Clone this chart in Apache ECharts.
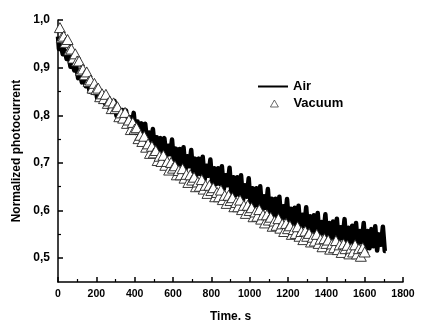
<!DOCTYPE html>
<html>
<head>
<meta charset="utf-8">
<script src="https://cdn.jsdelivr.net/npm/echarts@6/dist/echarts.min.js"></script>
<style>
html,body{margin:0;padding:0;background:#fff;}
#c{width:422px;height:320px;}
</style>
</head>
<body>
<div id="c"></div>
<script>
// Sampling grid (seconds) and values
const airStart = 0, airStep = 10;
const airValues = [
0.965,0.939,0.947,0.928,0.937, 0.918,0.928,0.902,0.909,0.894,
0.903,0.878,0.887,0.869,0.879, 0.861,0.873,0.850,0.859,0.847,
0.858,0.835,0.846,0.829,0.841, 0.825,0.838,0.816,0.825,0.814,
0.830,0.799,0.816,0.793,0.811, 0.790,0.810,0.780,0.796,0.782,
0.805,0.763,0.787,0.758,0.783, 0.755,0.782,0.743,0.764,0.745,
0.771,0.730,0.754,0.727,0.752, 0.725,0.752,0.714,0.736,0.718,
0.749,0.699,0.730,0.696,0.729, 0.696,0.733,0.685,0.714,0.693,
0.727,0.677,0.709,0.675,0.709, 0.676,0.713,0.665,0.694,0.673,
0.707,0.657,0.689,0.655,0.689, 0.656,0.693,0.645,0.674,0.653,
0.690,0.634,0.670,0.632,0.670, 0.633,0.674,0.621,0.653,0.629,
0.668,0.612,0.647,0.610,0.647, 0.610,0.651,0.598,0.630,0.606,
0.645,0.589,0.625,0.587,0.625, 0.588,0.629,0.576,0.609,0.585,
0.624,0.568,0.604,0.568,0.606, 0.569,0.610,0.558,0.591,0.568,
0.607,0.551,0.588,0.551,0.590, 0.553,0.595,0.542,0.576,0.552,
0.592,0.537,0.574,0.538,0.577, 0.541,0.583,0.531,0.565,0.542,
0.582,0.527,0.564,0.529,0.568, 0.532,0.574,0.522,0.557,0.534,
0.574,0.519,0.557,0.521,0.561, 0.525,0.567,0.516,0.550,0.528,
0.566,0.515
];
const vacStart = 10, vacStep = 10;
const vacValues = [
0.984,0.963,0.966,0.953,0.959, 0.937,0.939,0.920,0.929,0.914,
0.914,0.894,0.897,0.885,0.891, 0.871,0.874,0.857,0.867,0.854,
0.857,0.839,0.845,0.835,0.844, 0.825,0.830,0.814,0.826,0.814,
0.818,0.797,0.805,0.794,0.806, 0.783,0.790,0.770,0.785,0.771,
0.774,0.751,0.758,0.745,0.756, 0.733,0.740,0.720,0.735,0.721,
0.726,0.705,0.714,0.703,0.716, 0.695,0.703,0.685,0.701,0.689,
0.694,0.675,0.684,0.675,0.688, 0.668,0.676,0.659,0.675,0.664,
0.670,0.650,0.660,0.651,0.665, 0.645,0.653,0.636,0.653,0.642,
0.648,0.629,0.638,0.629,0.643, 0.623,0.632,0.615,0.632,0.621,
0.627,0.608,0.617,0.608,0.622, 0.602,0.611,0.594,0.611,0.600,
0.606,0.587,0.597,0.588,0.602, 0.582,0.591,0.574,0.591,0.580,
0.586,0.567,0.578,0.569,0.583, 0.563,0.572,0.556,0.573,0.562,
0.568,0.550,0.560,0.552,0.566, 0.546,0.556,0.539,0.557,0.546,
0.552,0.534,0.544,0.536,0.550, 0.531,0.540,0.524,0.541,0.531,
0.538,0.519,0.530,0.522,0.537, 0.518,0.528,0.512,0.530,0.520,
0.527,0.509,0.521,0.513,0.528, 0.509,0.520,0.504,0.522,0.513
];
const xTickValues = [0,200,400,600,800,1000,1200,1400,1600,1800];
const yTickValues = [0.5,0.6,0.7,0.8,0.9,1.0];
const yMinorTickValues = [0.55,0.65,0.75,0.85,0.95];
const seriesNames = ['Air','Vacuum'];
const xTitle = 'Time, s';
const yTitle = 'Normalized photocurrent';

const FONT = 'Liberation Sans, Arial, sans-serif';
const airData = airValues.map((v,i)=>[airStart + i*airStep, v]);
const vacData = vacValues.map((v,i)=>[vacStart + i*vacStep, v]);
const fmtComma = v => v.toFixed(1).replace('.', ',');

const chart = echarts.init(document.getElementById('c'), null, {renderer:'canvas'});
chart.setOption({
  animation:false,
  backgroundColor:'#fff',
  grid:{left:58,right:19,top:20,bottom:38,containLabel:false,outerBoundsMode:'none'},
  legend:[
    {data:[seriesNames[0]], left:258, top:80, padding:0, icon:'rect', itemWidth:30, itemHeight:2,
     textStyle:{fontFamily:FONT,fontWeight:'bold',fontSize:13,color:'#000'}},
    {data:[seriesNames[1]], left:270, top:97, padding:0, icon:'triangle', itemWidth:8, itemHeight:7,
     itemStyle:{color:'#fff',borderColor:'#444',borderWidth:0.8},
     textStyle:{fontFamily:FONT,fontWeight:'bold',fontSize:13,color:'#000',padding:[0,0,0,10]}}
  ],
  xAxis:{
    type:'value', min:0, max:1800, interval:200,
    name:xTitle, nameLocation:'middle', nameGap:29,
    nameTextStyle:{fontFamily:FONT,fontWeight:'bold',fontSize:12,color:'#000'},
    axisLine:{lineStyle:{color:'#000',width:1.5}},
    axisTick:{inside:true,length:5,lineStyle:{color:'#000',width:1.5}},
    minorTick:{show:true,splitNumber:2,length:3,lineStyle:{color:'#000',width:1.2}},
    axisLabel:{margin:7,fontFamily:FONT,fontWeight:'bold',fontSize:10.5,color:'#000',
      customValues:xTickValues, formatter:v=>String(v)},
    splitLine:{show:false}
  },
  yAxis:[{
    type:'value', min:0.45, max:1.0,
    name:yTitle, nameLocation:'middle', nameGap:34, nameRotate:90,
    nameTextStyle:{fontFamily:FONT,fontWeight:'bold',fontSize:12,color:'#000'},
    axisLine:{lineStyle:{color:'#000',width:1.5}},
    axisTick:{inside:true,length:5,customValues:yTickValues,lineStyle:{color:'#000',width:1.5}},
    axisLabel:{margin:8,fontFamily:FONT,fontWeight:'bold',fontSize:12,color:'#000',
      customValues:yTickValues, formatter:fmtComma},
    splitLine:{show:false}
  },{
    type:'value', min:0.45, max:1.0, position:'left',
    axisLine:{show:false},
    axisTick:{inside:true,length:3,customValues:yMinorTickValues,lineStyle:{color:'#000',width:1.2}},
    axisLabel:{show:false, customValues:yMinorTickValues},
    splitLine:{show:false}
  }],
  series:[
    {name:seriesNames[0], type:'line', data:airData, symbol:'none', step:'middle',
     lineStyle:{color:'#000',width:4.5,join:'round',cap:'butt'}, itemStyle:{color:'#000'}, z:2},
    {name:seriesNames[1], type:'scatter', data:vacData, symbol:'triangle', symbolSize:[11,10],
     itemStyle:{color:'#fff',borderColor:'#222',borderWidth:0.9,opacity:1}, z:3}
  ]
});
</script>
</body>
</html>
